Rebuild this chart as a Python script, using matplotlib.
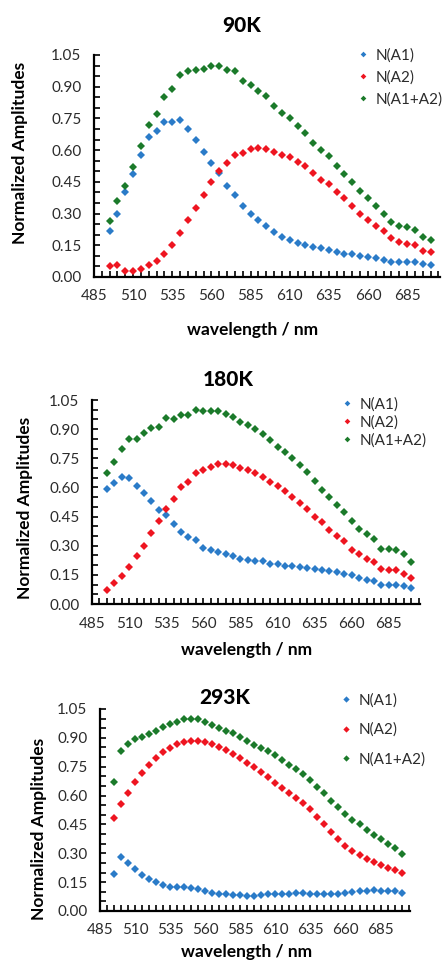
import matplotlib
matplotlib.use("Agg")
import matplotlib.pyplot as plt
from matplotlib.ticker import FormatStrFormatter

plt.rcParams['font.family'] = ['Lato', 'DejaVu Sans']

# wavelengths (nm)
wavelength = [495, 500, 505, 510, 515, 520, 525, 530, 535, 540,
              545, 550, 555, 560, 565, 570, 575, 580, 585, 590,
              595, 600, 605, 610, 615, 620, 625, 630, 635, 640,
              645, 650, 655, 660, 665, 670, 675, 680, 685, 690,
              695, 700]
xtick_major = [485, 510, 535, 560, 585, 610, 635, 660, 685]

# 90K
a1_90 = [0.216, 0.30, 0.40, 0.487, 0.575, 0.66, 0.69, 0.735, 0.735, 0.743,
         0.70, 0.65, 0.59, 0.54, 0.49, 0.43, 0.39, 0.337, 0.30, 0.27,
         0.243, 0.213, 0.19, 0.176, 0.16, 0.15, 0.14, 0.137, 0.126, 0.117,
         0.11, 0.109, 0.10, 0.095, 0.09, 0.082, 0.072, 0.071, 0.071, 0.071,
         0.061, 0.055]
a2_90 = [0.05, 0.055, 0.027, 0.03, 0.04, 0.055, 0.074, 0.11, 0.15, 0.208,
         0.27, 0.326, 0.39, 0.45, 0.50, 0.54, 0.575, 0.586, 0.606, 0.612,
         0.606, 0.59, 0.578, 0.567, 0.543, 0.523, 0.49, 0.46, 0.44, 0.40,
         0.373, 0.334, 0.30, 0.27, 0.243, 0.219, 0.183, 0.165, 0.157, 0.15,
         0.124, 0.117]
a12_90 = [0.266, 0.36, 0.43, 0.52, 0.62, 0.717, 0.77, 0.85, 0.89, 0.956,
          0.976, 0.98, 0.983, 1.00, 0.998, 0.98, 0.975, 0.928, 0.909, 0.88,
          0.854, 0.81, 0.778, 0.75, 0.715, 0.68, 0.636, 0.60, 0.57, 0.523,
          0.487, 0.447, 0.405, 0.373, 0.337, 0.30, 0.258, 0.243, 0.235, 0.224,
          0.19, 0.173]

# 180K
a1_180 = [0.59, 0.625, 0.653, 0.65, 0.605, 0.57, 0.53, 0.485, 0.46, 0.41,
          0.37, 0.343, 0.327, 0.29, 0.28, 0.267, 0.257, 0.245, 0.233, 0.228,
          0.223, 0.22, 0.207, 0.206, 0.197, 0.194, 0.188, 0.185, 0.182, 0.173,
          0.168, 0.164, 0.156, 0.147, 0.134, 0.125, 0.12, 0.10, 0.10, 0.10,
          0.094, 0.082]
a2_180 = [0.074, 0.108, 0.146, 0.19, 0.245, 0.30, 0.368, 0.425, 0.49, 0.54,
          0.60, 0.63, 0.673, 0.69, 0.707, 0.72, 0.721, 0.713, 0.70, 0.69,
          0.673, 0.656, 0.63, 0.608, 0.582, 0.553, 0.522, 0.488, 0.45, 0.42,
          0.38, 0.348, 0.322, 0.28, 0.257, 0.233, 0.214, 0.18, 0.176, 0.173,
          0.156, 0.134]
a12_180 = [0.673, 0.733, 0.80, 0.848, 0.85, 0.879, 0.904, 0.913, 0.956, 0.952,
           0.973, 0.973, 1.0, 0.993, 0.993, 0.993, 0.98, 0.964, 0.935, 0.92,
           0.90, 0.875, 0.845, 0.81, 0.78, 0.75, 0.716, 0.678, 0.634, 0.588,
           0.553, 0.51, 0.471, 0.425, 0.387, 0.361, 0.334, 0.284, 0.283, 0.28,
           0.257, 0.214]

# 293K
a1_293 = [0.19, 0.28, 0.25, 0.22, 0.186, 0.165, 0.15, 0.134, 0.125, 0.125,
          0.125, 0.121, 0.116, 0.104, 0.095, 0.09, 0.087, 0.082, 0.082, 0.078,
          0.078, 0.085, 0.087, 0.087, 0.09, 0.09, 0.094, 0.094, 0.09, 0.09,
          0.09, 0.087, 0.09, 0.094, 0.099, 0.104, 0.104, 0.108, 0.104, 0.102,
          0.102, 0.094]
a2_293 = [0.484, 0.554, 0.614, 0.672, 0.718, 0.758, 0.793, 0.824, 0.849, 0.868,
          0.88, 0.885, 0.885, 0.88, 0.868, 0.854, 0.836, 0.814, 0.793, 0.77,
          0.746, 0.72, 0.694, 0.666, 0.64, 0.614, 0.588, 0.559, 0.528, 0.49,
          0.451, 0.411, 0.373, 0.338, 0.312, 0.29, 0.27, 0.255, 0.24, 0.225,
          0.212, 0.20]
a12_293 = [0.672, 0.833, 0.868, 0.892, 0.902, 0.92, 0.937, 0.955, 0.97, 0.984,
           1.00, 1.00, 0.998, 0.984, 0.967, 0.953, 0.937, 0.923, 0.902, 0.883,
           0.863, 0.845, 0.831, 0.81, 0.784, 0.758, 0.736, 0.712, 0.68, 0.646,
           0.611, 0.571, 0.538, 0.503, 0.472, 0.451, 0.42, 0.397, 0.373, 0.347,
           0.33, 0.295]

labels = ["N(A1)", "N(A2)", "N(A1+A2)"]
colors = ["#2A7BC8", "#EE1520", "#1B7A2A"]

W, H = 445, 961
fig = plt.figure(figsize=(W / 100, H / 100), dpi=100)


def px(x0, y0, x1, y1):
    # axes rect from pixel box (left, top, right, bottom)
    return [x0 / W, 1 - y1 / H, (x1 - x0) / W, (y1 - y0) / H]


panels = [
    # title, series, axes box, title pos, xlabel pos, ylabel pos, legend pos, label spacing, marker size
    ("90K", [a1_90, a2_90, a12_90], (94, 55, 440, 277), (242, 25), (253, 330), (20, 153), (357, 48), 0.5, 3.6),
    ("180K", [a1_180, a2_180, a12_180], (92, 400, 420, 604), (228, 380), (247, 650), (25, 508), (341, 397), 0.25, 3.6),
    ("293K", [a1_293, a2_293, a12_293], (100, 709, 410, 911), (225, 697), (247, 952), (39, 829), (340, 693), 1.0, 4.0),
]

for title, series, box, tpos, xlpos, ylpos, lpos, lsp, ms in panels:
    ax = fig.add_axes(px(*box))
    for vals, lab, col in zip(series, labels, colors):
        ax.plot(wavelength, vals, linestyle="none", marker="D", markersize=ms,
                markeredgewidth=0, color=col, label=lab)
    ax.set_xlim(485, 706)
    ax.set_ylim(0, 1.05)
    ax.set_xticks(xtick_major)
    ax.set_xticks(range(485, 706, 5), minor=True)
    ax.set_yticks([0.0, 0.15, 0.30, 0.45, 0.60, 0.75, 0.90, 1.05])
    ax.set_yticks([0.05, 0.10, 0.20, 0.25, 0.35, 0.40, 0.50, 0.55, 0.65,
                   0.70, 0.80, 0.85, 0.95, 1.00], minor=True)
    ax.yaxis.set_major_formatter(FormatStrFormatter("%.2f"))
    for s in ["top", "right"]:
        ax.spines[s].set_visible(False)
    for s in ["left", "bottom"]:
        ax.spines[s].set_linewidth(1.6)
        ax.spines[s].set_color("black")
    ax.tick_params(which="both", direction="in", width=1.2, color="black")
    ax.tick_params(which="major", length=4, labelsize=11, pad=9, labelcolor="#2b2b2b")
    ax.tick_params(which="minor", length=4)

    fig.text(tpos[0] / W, 1 - tpos[1] / H, title, ha="center", va="center",
             fontsize=15, fontweight="black")
    fig.text(xlpos[0] / W, 1 - xlpos[1] / H, "wavelength / nm", ha="center", va="center",
             fontsize=12.5, fontweight="bold")
    fig.text(ylpos[0] / W, 1 - ylpos[1] / H, "Normalized Amplitudes", ha="center", va="center",
             rotation=90, fontsize=12.5, fontweight="bold")
    ax.legend(loc="upper left", bbox_to_anchor=(lpos[0] / W, 1 - lpos[1] / H),
              bbox_transform=fig.transFigure, frameon=False, fontsize=11,
              handlelength=0.8, handletextpad=0.4, borderpad=0, borderaxespad=0,
              labelspacing=lsp, markerscale=0.8, labelcolor="#2b2b2b")

fig.savefig("out.png", dpi=100)
